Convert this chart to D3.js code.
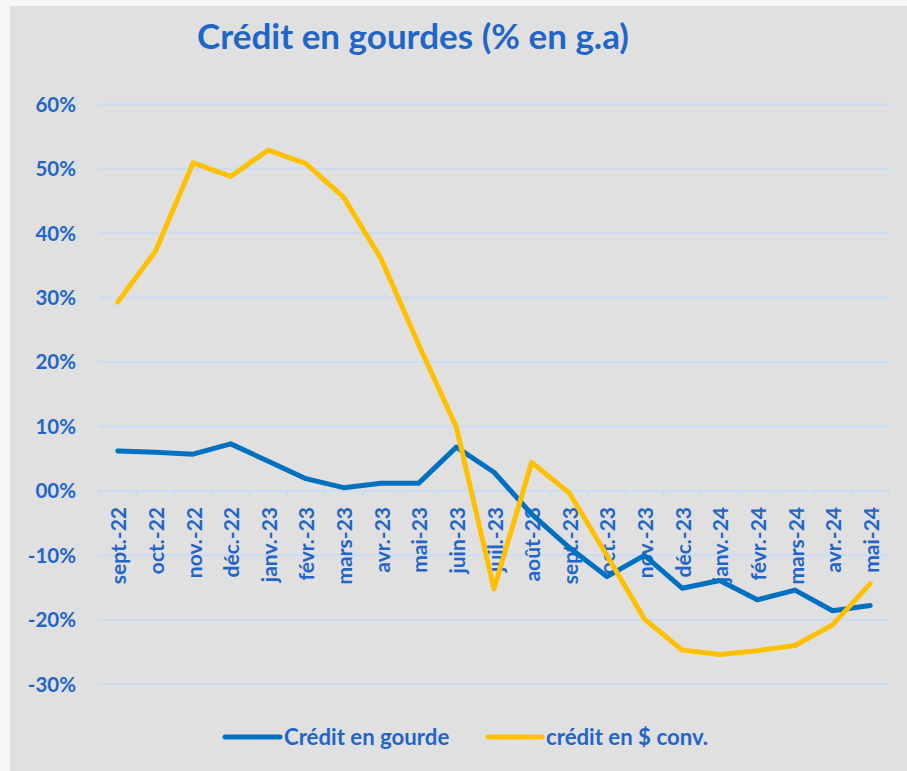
<!DOCTYPE html>
<html><head><meta charset="utf-8">
<script src="https://cdn.jsdelivr.net/npm/d3@7"></script>
<style>
html,body{margin:0;padding:0;background:#f7f7f7;}
svg{display:block;}
text{font-family:Lato,"Open Sans",sans-serif;font-weight:bold;fill:#1f66c8;}
</style></head>
<body>
<svg id="c" width="907" height="771"></svg>
<script>
const categories = ["sept.-22","oct.-22","nov.-22","déc.-22","janv.-23","févr.-23","mars-23","avr.-23","mai-23","juin-23","juil.-23","août-23","sept.-23","oct.-23","nov.-23","déc.-23","janv.-24","févr.-24","mars-24","avr.-24","mai-24"];
const creditGourde = [6.2,6.0,5.7,7.3,4.6,1.9,0.5,1.2,1.2,6.8,2.9,-3.6,-8.8,-13.3,-10.0,-15.1,-13.9,-16.9,-15.4,-18.6,-17.8];
const creditDollar = [29.3,37.2,50.9,48.8,52.9,50.8,45.6,36.0,22.7,9.9,-15.2,4.4,-0.3,-10.0,-19.9,-24.7,-25.4,-24.8,-24.0,-20.8,-14.4];
const yTicks = [60,50,40,30,20,10,0,-10,-20,-30];
const yTickLabels = ["60%","50%","40%","30%","20%","10%","00%","-10%","-20%","-30%"];
const seriesNames = ["Crédit en gourde","crédit en $ conv."];
const colors = ["#0070c0","#ffc000"];

const svg = d3.select("#c");
svg.append("rect").attr("x",10).attr("y",6).attr("width",897).attr("height",765).attr("fill","#e0e0e0");

const x = d3.scaleBand().domain(categories).range([99,889]).padding(0);
const y = d3.scaleLinear().domain([-30,60]).range([684.2,104.3]);
const grid = "#c8dcf4";

// gridlines
svg.append("g").selectAll("line").data(yTicks).join("line")
  .attr("x1",99).attr("x2",889).attr("y1",d=>y(d)).attr("y2",d=>y(d))
  .attr("stroke",grid).attr("stroke-width",2);

// y labels
svg.append("g").selectAll("text").data(yTicks).join("text")
  .attr("x",76).attr("y",d=>y(d)).attr("dy","0.36em").attr("text-anchor","end")
  .attr("font-size",20.5).text((d,i)=>yTickLabels[i]);

// category tick marks at zero axis
const bounds = categories.map(c=>x(c)).concat([x.range()[1]]);
svg.append("g").selectAll("line").data(bounds).join("line")
  .attr("x1",d=>d).attr("x2",d=>d).attr("y1",y(0)).attr("y2",y(0)+7)
  .attr("stroke",grid).attr("stroke-width",2);

// x labels
svg.append("g").selectAll("text").data(categories).join("text")
  .attr("transform",d=>`translate(${x(d)+x.bandwidth()/2+1},507) rotate(-90)`)
  .attr("dy","0.36em").attr("text-anchor","end").attr("font-size",21).text(d=>d);

const line = d3.line().x((d,i)=>x(categories[i])+x.bandwidth()/2).y(d=>y(d));
[creditGourde, creditDollar].forEach((s,k)=>{
  svg.append("path").datum(s).attr("d",line).attr("fill","none")
    .attr("stroke",colors[k]).attr("stroke-width",5).attr("stroke-linejoin","round").attr("stroke-linecap","round");
});

// title
svg.append("text").attr("x",413).attr("y",49).attr("text-anchor","middle").attr("font-size",35).text("Crédit en gourdes (% en g.a)");

// legend
const lg = [{x1:225,x2:280,tx:284},{x1:488,x2:542,tx:546}];
lg.forEach((l,k)=>{
  svg.append("line").attr("x1",l.x1).attr("x2",l.x2).attr("y1",737).attr("y2",737)
    .attr("stroke",colors[k]).attr("stroke-width",5).attr("stroke-linecap","round");
  svg.append("text").attr("x",l.tx).attr("y",737).attr("dy","0.36em").attr("font-size",22.2).text(seriesNames[k]);
});
</script>
</body></html>
